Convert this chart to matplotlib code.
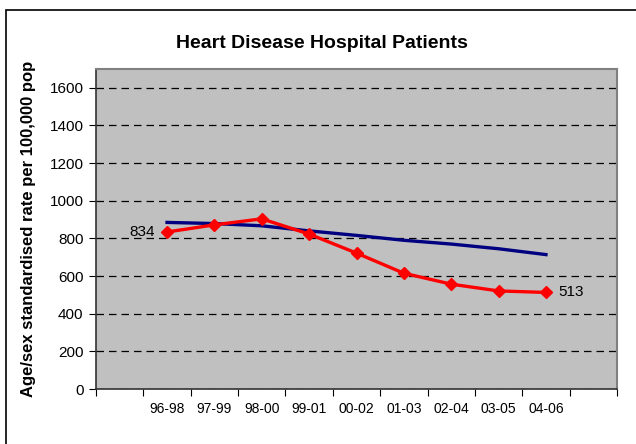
import matplotlib.pyplot as plt
from matplotlib.patches import Rectangle

plt.rcParams["font.family"] = ["Liberation Sans", "DejaVu Sans"]

# Data
categories = ["", "96-98", "97-99", "98-00", "99-01", "00-02", "01-03", "02-04", "03-05", "04-06", ""]
rate = [834, 872, 904, 823, 722, 615, 557, 521, 513]
trend = [885, 879, 867, 840, 816, 790, 770, 745, 714]

pos = list(range(1, 1 + len(rate)))

fig = plt.figure(figsize=(6.36, 4.44), dpi=100)
ax = fig.add_axes([96 / 636, 55 / 444, 521 / 636, 320 / 444])

# outer chart border (left/top visible, rest cropped)
fig.patches.append(Rectangle((6 / 636, -0.1), 1.2, (434 / 444) + 0.1,
                             transform=fig.transFigure, fill=False,
                             edgecolor="black", linewidth=1.2))

ax.set_facecolor("#c0c0c0")
ax.set_xlim(-0.5, len(categories) - 0.5)
ax.set_ylim(0, 1700)

ax.set_yticks(range(0, 1601, 200))
ax.tick_params(axis="y", direction="out", length=5, labelsize=11, pad=4)
ax.grid(axis="y", color="black", linestyle=(0, (6, 4)), linewidth=0.9)
ax.set_axisbelow(True)

# category boundaries as ticks, labels in between
ax.set_xticks([i - 0.5 for i in range(len(categories) + 1)])
ax.set_xticklabels([])
ax.set_xticks(range(len(categories)), minor=True)
ax.set_xticklabels(categories, minor=True)
ax.tick_params(axis="x", which="major", direction="out", length=5)
ax.tick_params(axis="x", which="minor", length=0, labelsize=10, pad=9)

for s in ["left", "bottom"]:
    ax.spines[s].set_color("#333333")
    ax.spines[s].set_linewidth(1.2)
for s in ["top", "right"]:
    ax.spines[s].set_color("#808080")
    ax.spines[s].set_linewidth(1.5)

ax.plot(pos, trend, color="#000080", linewidth=2.4, zorder=3)
ax.plot(pos, rate, color="#ff0000", linewidth=2.4, marker="D",
        markersize=6.5, zorder=4)

ax.annotate(str(rate[0]), (pos[0], rate[0]), xytext=(-9, 0),
            textcoords="offset points", ha="right", va="center", fontsize=11)
ax.annotate(str(rate[-1]), (pos[-1], rate[-1]), xytext=(9, 0),
            textcoords="offset points", ha="left", va="center", fontsize=11)

ax.set_ylabel("Age/sex standardised rate per 100,000 pop", fontsize=12,
              fontweight="bold", labelpad=10)
fig.text(322 / 636, 1 - 44 / 444, "Heart Disease Hospital Patients",
         ha="center", va="center", fontsize=14, fontweight="bold")

fig.savefig("out.png", dpi=100)
